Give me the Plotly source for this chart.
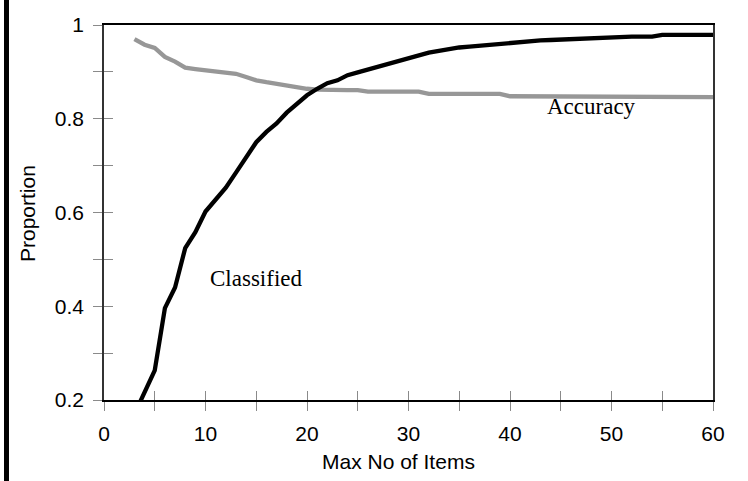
import plotly.graph_objects as go

# ---- data ----
max_items = list(range(3, 61))
classified = [0.17, 0.215, 0.263, 0.396, 0.44, 0.524, 0.558, 0.602, 0.627, 0.653,
              0.685, 0.716, 0.750, 0.772, 0.790, 0.813, 0.833, 0.850, 0.864, 0.876,
              0.882, 0.893, 0.899, 0.905, 0.911, 0.918, 0.922, 0.929, 0.935, 0.941,
              0.945, 0.949, 0.952, 0.954, 0.956, 0.959, 0.961, 0.962, 0.965, 0.966,
              0.967, 0.968, 0.969, 0.971, 0.972, 0.972, 0.972, 0.973, 0.975, 0.975,
              0.975, 0.975, 0.979, 0.979, 0.979, 0.979, 0.979, 0.979]
accuracy = [0.970, 0.958, 0.951, 0.932, 0.922, 0.909, 0.906, 0.903, 0.900, 0.899,
            0.896, 0.889, 0.882, 0.878, 0.874, 0.870, 0.866, 0.864, 0.862, 0.861,
            0.861, 0.861, 0.861] + [0.858] * 6 + [0.853] * 8 + [0.848] * 10 + [0.846] * 11

x_range = [0, 60]
y_range = [0.2, 1.0]
series_labels = {"Classified": (15.0, 0.459), "Accuracy": (48.0, 0.826)}

SANS = "Liberation Sans, Arial, sans-serif"
SERIF = "Liberation Serif, Times New Roman, serif"
TICKC = "#8a8a8a"

fig = go.Figure()
fig.add_trace(go.Scatter(x=max_items, y=accuracy, mode="lines",
                         line=dict(color="#979797", width=4.3), showlegend=False))
# Classified drawn on the overlay axes (identical ranges) so it sits on top
# and the overlay axes supply the inner halves of the crossing ticks
fig.add_trace(go.Scatter(x=max_items, y=classified, mode="lines", xaxis="x2", yaxis="y2",
                         line=dict(color="#000000", width=4.3), showlegend=False))

for name, (lx, ly) in series_labels.items():
    fig.add_annotation(x=lx, y=ly, text=name, showarrow=False,
                       font=dict(family=SERIF, size=23, color="black"),
                       xanchor="center", yanchor="middle")

fig.add_annotation(text="Max No of Items", xref="paper", yref="paper",
                   x=0.483, y=-0.165, showarrow=False, xanchor="center", yanchor="middle",
                   font=dict(family=SANS, size=21, color="black"))
fig.add_annotation(text="Proportion", xref="paper", yref="paper", textangle=-90,
                   x=-0.1264, y=0.496, showarrow=False, xanchor="center", yanchor="middle",
                   font=dict(family=SANS, size=21, color="black"))

# thick black bar at the left edge of the picture
fig.add_shape(type="rect", xref="paper", yref="paper",
              x0=-0.1642, x1=-0.1560, y0=-0.22, y1=1.07,
              fillcolor="black", line=dict(width=0))

fig.update_layout(
    width=748, height=481,
    margin=dict(l=104, r=35, t=25, b=81, autoexpand=False),
    paper_bgcolor="white", plot_bgcolor="white",
    font=dict(family=SANS, size=21, color="black"),
    xaxis=dict(range=x_range, tick0=0, dtick=10, ticks="outside", ticklen=9,
               tickcolor=TICKC, tickwidth=1.3, ticklabelstandoff=5,
               minor=dict(dtick=5, ticks="outside", ticklen=9, tickcolor=TICKC, tickwidth=1.3),
               showline=True, linecolor="black", linewidth=1.5, mirror=True,
               showgrid=False, zeroline=False,
               tickfont=dict(family=SANS, size=21, color="black")),
    yaxis=dict(range=y_range, tick0=0.2, dtick=0.2, ticks="outside", ticklen=9,
               tickcolor=TICKC, tickwidth=1.3, ticklabelstandoff=5,
               minor=dict(dtick=0.1, ticks="outside", ticklen=9, tickcolor=TICKC, tickwidth=1.3),
               showline=True, linecolor="#333333", linewidth=1.5, mirror=True,
               showgrid=False, zeroline=False,
               tickfont=dict(family=SANS, size=21, color="black")),
    xaxis2=dict(range=x_range, overlaying="x", anchor="y2", side="bottom",
                tick0=0, dtick=5, ticks="inside", ticklen=9, tickcolor=TICKC, tickwidth=1.3,
                showticklabels=False, showline=False, showgrid=False, zeroline=False),
    yaxis2=dict(range=y_range, overlaying="y", anchor="x2", side="left",
                tick0=0.2, dtick=0.1, ticks="inside", ticklen=9, tickcolor=TICKC, tickwidth=1.3,
                showticklabels=False, showline=False, showgrid=False, zeroline=False),
)

fig.write_html("out.html", config={"displayModeBar": False},
               post_script="document.body.style.margin='0px';")
